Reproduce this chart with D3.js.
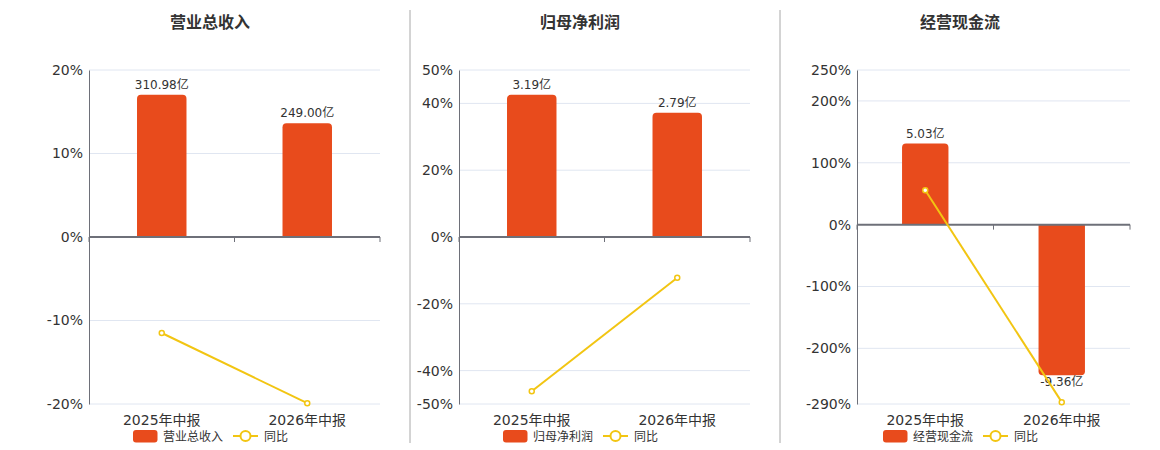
<!DOCTYPE html>
<html>
<head>
<meta charset="utf-8">
<script src="https://cdn.jsdelivr.net/npm/d3@7"></script>
<style>
  body { margin: 0; background: #fff; }
  svg text { font-family: "DejaVu Sans", "Noto Sans CJK SC", sans-serif; fill: #333; }
</style>
</head>
<body>
<svg id="chart" width="1160" height="450"></svg>
<script>
// data
var categories = ["2025年中报", "2026年中报"];
var titles = ["营业总收入", "归母净利润", "经营现金流"];
var revenue = [310.98, 249.00];
var netProfit = [3.19, 2.79];
var cashFlow = [5.03, -9.36];
var revenueYoy = [-11.5, -19.9];
var netProfitYoy = [-46.2, -12.2];
var cashFlowYoy = [55.5, -287];
var revenueTicks = [20, 10, 0, -10, -20];
var netProfitTicks = [50, 40, 20, 0, -20, -40, -50];
var cashFlowTicks = [250, 200, 100, 0, -100, -200, -290];

var barColor = "#E84B1C", lineColor = "#F2C512";

var panels = [
  {title: titles[0], bars: revenue, yoy: revenueYoy, ticks: revenueTicks, yDom: [-20, 20], bDom: [-365.4, 365.4], x0: 89, x1: 380, cx: 210},
  {title: titles[1], bars: netProfit, yoy: netProfitYoy, ticks: netProfitTicks, yDom: [-50, 50], bDom: [-3.747, 3.747], x0: 459, x1: 750, cx: 580},
  {title: titles[2], bars: cashFlow, yoy: cashFlowYoy, ticks: cashFlowTicks, yDom: [-290, 250], bDom: [-11.14, 9.6], x0: 857, x1: 1130, cx: 960}
];

var svg = d3.select("#chart");
var plotTop = 70, plotBottom = 404;

// separators
[410, 780].forEach(function(x){
  svg.append("line").attr("x1", x).attr("x2", x).attr("y1", 10).attr("y2", 443)
    .attr("stroke", "#a8a8a8").attr("stroke-width", 1);
});

function barPath(x, w, y0, y1, r){
  // rounded at the far end from zero
  if (y1 < y0) {
    return "M" + x + "," + y0 + "V" + (y1 + r) + "Q" + x + "," + y1 + " " + (x + r) + "," + y1 +
      "H" + (x + w - r) + "Q" + (x + w) + "," + y1 + " " + (x + w) + "," + (y1 + r) + "V" + y0 + "Z";
  }
  return "M" + x + "," + y0 + "V" + (y1 - r) + "Q" + x + "," + y1 + " " + (x + r) + "," + y1 +
    "H" + (x + w - r) + "Q" + (x + w) + "," + y1 + " " + (x + w) + "," + (y1 - r) + "V" + y0 + "Z";
}

panels.forEach(function(p){
  var g = svg.append("g");
  var xScale = d3.scaleBand().domain(categories).range([p.x0, p.x1]);
  var yScale = d3.scaleLinear().domain(p.yDom).range([plotBottom, plotTop]);
  var bScale = d3.scaleLinear().domain(p.bDom).range([plotBottom, plotTop]);
  var bw = xScale.bandwidth() * 0.34;
  var zeroY = yScale(0);

  g.append("text").attr("x", p.cx).attr("y", 28).attr("text-anchor", "middle")
    .style("font-size", "16px").style("font-weight", "bold").text(p.title);

  // grid
  g.selectAll(".grid").data(p.ticks.filter(function(t){ return t !== 0; })).enter()
    .append("line").attr("x1", p.x0).attr("x2", p.x1)
    .attr("y1", function(d){ return yScale(d); }).attr("y2", function(d){ return yScale(d); })
    .attr("stroke", "#E0E6F1");

  // y axis
  var yAxis = d3.axisLeft(yScale).tickValues(p.ticks).tickSize(0).tickPadding(6)
    .tickFormat(function(d){ return d + "%"; });
  var ya = g.append("g").attr("transform", "translate(" + p.x0 + ",0)").call(yAxis);
  ya.select(".domain").attr("stroke", "#6E7079");
  ya.selectAll("text").style("font-size", "14px").attr("fill", "#333")
    .style("font-family", "'DejaVu Sans', sans-serif");

  // bars
  g.selectAll(".bar").data(p.bars).enter().append("path")
    .attr("d", function(d, i){
      var x = xScale(categories[i]) + (xScale.bandwidth() - bw) / 2;
      return barPath(x, bw, bScale(0), bScale(d), 4);
    })
    .attr("fill", barColor);

  // x axis at zero
  g.append("line").attr("x1", p.x0).attr("x2", p.x1).attr("y1", zeroY).attr("y2", zeroY)
    .attr("stroke", "#6E7079").attr("stroke-width", 2);
  var bounds = categories.map(function(c){ return xScale(c); }).concat([p.x1]);
  g.selectAll(".xt").data(bounds).enter().append("line")
    .attr("x1", function(d){ return d; }).attr("x2", function(d){ return d; })
    .attr("y1", zeroY).attr("y2", zeroY + 5).attr("stroke", "#6E7079");

  // category labels
  g.selectAll(".cat").data(categories).enter().append("text")
    .attr("x", function(d){ return xScale(d) + xScale.bandwidth() / 2; })
    .attr("y", 425).attr("text-anchor", "middle").style("font-size", "14px")
    .text(function(d){ return d; });

  // bar value labels
  g.selectAll(".val").data(p.bars).enter().append("text")
    .attr("x", function(d, i){ return xScale(categories[i]) + xScale.bandwidth() / 2; })
    .attr("y", function(d){ return d >= 0 ? bScale(d) - 6 : bScale(d) + 11; })
    .attr("text-anchor", "middle").style("font-size", "12px")
    .text(function(d){ return d.toFixed(2) + "亿"; });

  // yoy line
  var line = d3.line()
    .x(function(d, i){ return xScale(categories[i]) + xScale.bandwidth() / 2; })
    .y(function(d){ return yScale(d); });
  g.append("path").datum(p.yoy).attr("d", line).attr("fill", "none")
    .attr("stroke", lineColor).attr("stroke-width", 2);
  g.selectAll(".pt").data(p.yoy).enter().append("circle")
    .attr("cx", function(d, i){ return xScale(categories[i]) + xScale.bandwidth() / 2; })
    .attr("cy", function(d){ return yScale(d); }).attr("r", 2.5)
    .attr("fill", "#fff").attr("stroke", lineColor).attr("stroke-width", 1.5);

  // legend
  var lx = p.cx - 77;
  g.append("rect").attr("x", lx).attr("y", 430).attr("width", 24.5).attr("height", 12.5)
    .attr("rx", 3).attr("fill", barColor);
  g.append("text").attr("x", lx + 30).attr("y", 440.5).style("font-size", "12px").text(p.title);
  g.append("line").attr("x1", lx + 100).attr("x2", lx + 125).attr("y1", 436).attr("y2", 436)
    .attr("stroke", lineColor).attr("stroke-width", 2);
  g.append("circle").attr("cx", lx + 112.5).attr("cy", 436).attr("r", 5)
    .attr("fill", "#fff").attr("stroke", lineColor).attr("stroke-width", 2);
  g.append("text").attr("x", lx + 131).attr("y", 440.5).style("font-size", "12px").text("同比");
});
</script>
</body>
</html>
